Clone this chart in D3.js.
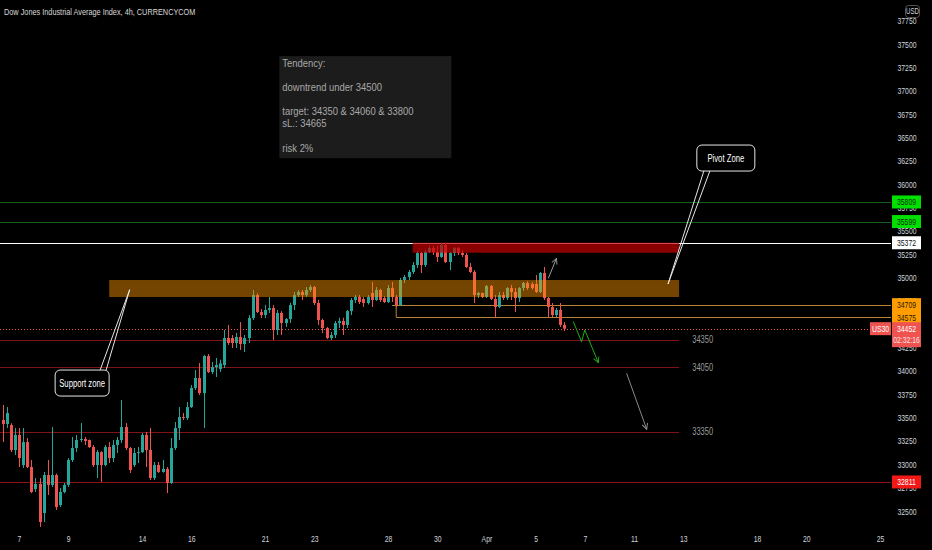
<!DOCTYPE html>
<html lang="en">
<head>
<meta charset="utf-8">
<title>Dow Jones Industrial Average Index, 4h, CURRENCYCOM</title>
<script src="https://cdnjs.cloudflare.com/ajax/libs/d3/7.8.5/d3.min.js"></script>
<style>
  body { margin: 0; background: #000; }
  svg { display: block; font-family: "Liberation Sans", Arial, sans-serif; }
</style>
</head>
<body>
<script>

// 4h candles
var opens = [33474,33431,33420,33153,33314,32992,33238,32971,32735,32789,32478,32885,32779,32885,32564,32703,32779,33046,33174,33260,
  33271,33260,33185,32992,33131,32992,33185,33067,33206,33260,33399,33174,32992,33121,33131,33314,33153,32853,32992,32918,
  32950,32800,33174,33388,33506,33496,33613,33817,33924,33763,34159,33988,34041,34020,34063,34352,34352,34299,34363,34288,
  34352,34566,34812,34630,34598,34652,34673,34438,34620,34513,34555,34705,34812,34845,34812,34866,34898,34727,34545,34459,
  34352,34384,34513,34534,34491,34641,34759,34791,34770,34727,34834,34759,34866,34780,34737,34887,34791,34705,34973,35005,
  35059,35134,35262,35134,35273,35316,35273,35220,35348,35166,35262,35316,35262,35241,35112,35059,34812,34834,34791,34909,
  34770,34684,34812,34780,34887,34845,34780,34887,34941,34930,34930,34845,35048,34780,34684,34598,34652,34492];
var highs = [33635,33613,33440,33388,33388,33388,33281,33046,32853,32853,32918,33046,33399,32900,32746,32800,33067,33292,33314,33442,
  33292,33265,33206,33153,33140,33206,33238,33260,33292,33688,33442,33185,33174,33185,33335,33346,33388,33025,33025,33046,
  32971,33281,33453,33613,33549,33667,33849,34009,34084,34170,34180,34095,34138,34120,34438,34492,34384,34405,34523,34384,
  34598,34866,34830,34662,34705,34791,34705,34652,34640,34566,34730,34845,34866,34866,34898,34920,34910,34759,34560,34470,
  34416,34534,34570,34570,34652,34780,34812,34812,34791,34812,34952,34898,34880,34800,34920,34952,34812,34995,35027,35080,
  35166,35284,35273,35294,35337,35337,35340,35370,35372,35273,35326,35326,35294,35262,35155,35080,34845,34840,34920,34920,
  34812,34845,34845,34898,34920,34887,34898,34952,34960,34950,35027,35059,35112,34791,34727,34673,34727,34523];
var lows = [33239,33388,33131,33100,32971,32960,32960,32692,32703,32329,32382,32671,32757,32511,32543,32690,32757,33025,33131,33238,
  33206,33174,32971,32853,32810,32980,33014,33025,33121,33228,33153,32907,32971,33014,33121,32971,32832,32832,32907,32910,
  32692,32789,33153,33260,33474,33474,33603,33795,33742,33388,33977,33966,33935,33990,34031,34277,34245,34245,34224,34202,
  34299,34545,34620,34566,34566,34620,34331,34384,34384,34470,34513,34652,34791,34759,34791,34845,34705,34492,34405,34341,
  34331,34352,34459,34384,34459,34598,34727,34716,34684,34710,34684,34750,34738,34727,34727,34737,34684,34695,34941,34973,
  35038,35102,35048,35112,35262,35241,35166,35210,35155,35080,35230,35241,35220,35102,35048,34727,34780,34780,34780,34759,
  34566,34673,34759,34759,34759,34630,34737,34855,34866,34870,34834,34834,34759,34566,34577,34577,34470,34427];
var closes = [33431,33549,33153,33314,33067,33238,32971,32703,32789,32382,32885,32779,32885,32543,32703,32779,33046,33174,33260,33271,
  33249,33185,32992,33131,32992,33185,33067,33206,33260,33399,33174,32939,33121,33131,33314,33153,32853,32992,32918,32950,
  32800,33174,33388,33506,33496,33613,33817,33924,33763,34159,33988,34041,34063,34080,34352,34299,34299,34363,34288,34352,
  34566,34812,34630,34598,34652,34673,34438,34620,34513,34555,34705,34812,34845,34812,34866,34898,34727,34545,34459,34352,
  34384,34513,34534,34491,34641,34759,34791,34737,34727,34791,34759,34866,34759,34737,34887,34791,34705,34973,35005,35059,
  35134,35262,35134,35273,35316,35273,35220,35348,35166,35262,35316,35262,35241,35112,35059,34812,34834,34791,34909,34770,
  34684,34812,34780,34887,34845,34780,34887,34941,34887,34887,34845,35048,34780,34684,34598,34652,34492,34452];

// price scale ticks
var priceTicks = [32500,32750,33000,33250,33500,33750,34000,34250,34500,34750,35000,35250,35500,35750,36000,36250,36500,36750,37000,37250,37500,37750];

// date labels, and the 4h bar where each of those days opens
var dayLabels = ["7","9","14","16","21","23","28","30","Apr","5","7","11","13","18","20","25"];
var dayBars = [4,16,34,46,64,76,94,106,118,130,142,154,166,184,196,214];

// horizontal levels drawn on the chart
var greenLevels = [35809, 35599];
var whiteLevel = 35372;
var orangeLevels = [34709, 34575];
var orangeStartBars = [95, 96];
var targetLevels = [34335, 34040, 33350];
var targetLabels = ["34350", "34050", "33350"];
var stopLevel = 32811;
var lastPrice = 34452;
var countdown = "02:32:16";
var symbol = "US30";

// zones [bar from, bar to, price top, price bottom]
var pivotZone = [26, 165, 34973, 34791];
var resistZone = [100, 165, 35372, 35265];
var levelEndBar = 165;

// arrows (bar, price)
var upArrowBars = [133.1, 135.1], upArrowPrices = [34991, 35205];
var zigBars = [139.2, 141.2, 142, 145.3], zigPrices = [34527, 34313, 34438, 34088];
var downArrowBars = [152.2, 157.1], downArrowPrices = [33974, 33375];

// callouts
var calloutTexts = ["Pivot Zone", "Support zone"];
var calloutBars = [176.4, 19.4], calloutPrices = [36279, 33870];
var calloutTipBars = [162.3, 31], calloutTipPrices = [34930, 34870];

// note box
var noteLines = ["Tendency:", "", "downtrend under 34500", "", "target: 34350 & 34060 & 33800", "sL.: 34665", "", "risk 2%"];
var noteBar = 67.5, notePrice = 37370;

var title = "Dow Jones Industrial Average Index, 4h, CURRENCYCOM";

var w = 932, h = 550;
var plotRight = 891;
var up = "#26a69a", down = "#ef5350";

var x = d3.scaleLinear().domain([0, 214]).range([2.6, 880]);
var y = d3.scaleLinear().domain([32500, 37500]).range([511, 44]);

// the screenshot's lettering is narrow: squeeze each text to a share of its natural width
function squeeze(sel, k) {
  sel.each(function () {
    var len = this.getComputedTextLength();
    if (len > 0) d3.select(this).attr("textLength", len * k).attr("lengthAdjust", "spacingAndGlyphs");
  });
}

var svg = d3.select("body").append("svg")
    .attr("width", w)
    .attr("height", h)
    .style("background", "#000");

var defs = svg.append("defs");
function marker(id, color) {
  defs.append("marker")
      .attr("id", id)
      .attr("viewBox", "0 0 10 10")
      .attr("refX", 9).attr("refY", 5)
      .attr("markerUnits", "userSpaceOnUse")
      .attr("markerWidth", 7).attr("markerHeight", 7)
      .attr("orient", "auto")
    .append("path")
      .attr("d", "M1,1 L9,5 L1,9")
      .attr("fill", "none")
      .attr("stroke", color)
      .attr("stroke-width", 1.3);
}
marker("headGray", "#9a9a9a");
marker("headGreen", "#1fae1f");

var plot = svg.append("g");

// full width levels
plot.selectAll(".green-level")
  .data(greenLevels)
  .enter().append("line")
    .attr("x1", 0).attr("x2", plotRight)
    .attr("y1", d => Math.round(y(d)) + 0.5).attr("y2", d => Math.round(y(d)) + 0.5)
    .attr("stroke", "#17601a");

plot.append("line")
    .attr("x1", 0).attr("x2", plotRight)
    .attr("y1", Math.round(y(whiteLevel)) + 0.5).attr("y2", Math.round(y(whiteLevel)) + 0.5)
    .attr("stroke", "#ffffff");

plot.selectAll(".orange-level")
  .data(orangeLevels)
  .enter().append("line")
    .attr("x1", (d, i) => x(orangeStartBars[i])).attr("x2", plotRight)
    .attr("y1", d => Math.round(y(d)) + 0.5).attr("y2", d => Math.round(y(d)) + 0.5)
    .attr("stroke", "#b88436");

plot.append("line")
    .attr("x1", x(orangeStartBars[1])).attr("x2", x(orangeStartBars[1]))
    .attr("y1", y(orangeLevels[0])).attr("y2", y(orangeLevels[1]))
    .attr("stroke", "#b88436");

plot.selectAll(".target-level")
  .data(targetLevels)
  .enter().append("line")
    .attr("x1", 0).attr("x2", x(levelEndBar))
    .attr("y1", d => Math.round(y(d)) + 0.5).attr("y2", d => Math.round(y(d)) + 0.5)
    .attr("stroke", "#7e1414");

plot.append("g")
  .selectAll("text")
  .data(targetLevels)
  .enter().append("text")
    .attr("x", x(168.2))
    .attr("y", d => y(d))
    .attr("dy", "0.35em")
    .attr("font-size", 10)
    .attr("fill", "#9a9a9a")
    .text((d, i) => targetLabels[i])
    .call(squeeze, 0.75);

plot.append("line")
    .attr("x1", 0).attr("x2", plotRight)
    .attr("y1", Math.round(y(stopLevel)) + 0.5).attr("y2", Math.round(y(stopLevel)) + 0.5)
    .attr("stroke", "#8e1212");

plot.append("line")
    .attr("x1", 0).attr("x2", plotRight)
    .attr("y1", Math.round(y(lastPrice)) + 0.5).attr("y2", Math.round(y(lastPrice)) + 0.5)
    .attr("stroke", down)
    .attr("stroke-dasharray", "1,2");

// candles
var candles = opens.map((o, i) => ({ i: i, o: o, h: highs[i], l: lows[i], c: closes[i] }));

var cg = plot.append("g");
cg.selectAll("line")
  .data(candles)
  .enter().append("line")
    .attr("x1", d => Math.round(x(d.i)) + 0.5).attr("x2", d => Math.round(x(d.i)) + 0.5)
    .attr("y1", d => y(d.h)).attr("y2", d => y(d.l))
    .attr("stroke", d => d.c >= d.o ? up : down);

cg.selectAll("rect")
  .data(candles)
  .enter().append("rect")
    .attr("x", d => Math.round(x(d.i)) - 1)
    .attr("y", d => y(Math.max(d.o, d.c)))
    .attr("width", 3)
    .attr("height", d => Math.max(1, Math.abs(y(d.o) - y(d.c))))
    .attr("fill", d => d.c >= d.o ? up : down);

// zones on top of candles
plot.append("rect")
    .attr("x", x(pivotZone[0])).attr("width", x(pivotZone[1]) - x(pivotZone[0]))
    .attr("y", y(pivotZone[2])).attr("height", y(pivotZone[3]) - y(pivotZone[2]))
    .attr("fill", "#ff9800").attr("fill-opacity", 0.45);

plot.append("rect")
    .attr("x", x(resistZone[0])).attr("width", x(resistZone[1]) - x(resistZone[0]))
    .attr("y", y(resistZone[2])).attr("height", y(resistZone[3]) - y(resistZone[2]))
    .attr("fill", "#c40000").attr("fill-opacity", 0.7);

// arrows
var line = d3.line();
plot.append("path")
    .attr("d", line(upArrowBars.map((b, i) => [x(b), y(upArrowPrices[i])])))
    .attr("fill", "none").attr("stroke", "#9a9a9a")
    .attr("marker-end", "url(#headGray)");

plot.append("path")
    .attr("d", line(zigBars.map((b, i) => [x(b), y(zigPrices[i])])))
    .attr("fill", "none").attr("stroke", "#1fae1f")
    .attr("marker-end", "url(#headGreen)");

plot.append("path")
    .attr("d", line(downArrowBars.map((b, i) => [x(b), y(downArrowPrices[i])])))
    .attr("fill", "none").attr("stroke", "#8a8a8a")
    .attr("marker-end", "url(#headGray)");

// callouts
var calloutW = [58, 54], calloutH = 26;
calloutTexts.forEach(function (t, i) {
  var cx = x(calloutBars[i]), cy = y(calloutPrices[i]);
  var tx = x(calloutTipBars[i]), ty = y(calloutTipPrices[i]);
  var bw = calloutW[i];
  // tail leaves the box edge that faces the tip
  var by = ty > cy ? cy + calloutH / 2 : cy - calloutH / 2;
  var bx = i === 0 ? cx - bw / 2 + 10 : cx + bw / 2 - 6;
  plot.append("path")
      .attr("d", "M" + (bx - 3) + "," + by + "L" + tx + "," + ty + "L" + (bx + 3) + "," + by)
      .attr("fill", "none")
      .attr("stroke", "#e6e6e6");
  plot.append("rect")
      .attr("x", cx - bw / 2).attr("y", cy - calloutH / 2)
      .attr("width", bw).attr("height", calloutH)
      .attr("rx", 5)
      .attr("fill", "#000")
      .attr("stroke", "#e6e6e6");
  plot.append("text")
      .attr("x", cx).attr("y", cy)
      .attr("dy", "0.35em")
      .attr("text-anchor", "middle")
      .attr("font-size", 10)
      .attr("fill", "#ffffff")
      .text(t)
      .call(squeeze, 0.77);
});

// note box
var nx = x(noteBar), ny = y(notePrice);
plot.append("rect")
    .attr("x", nx).attr("y", ny)
    .attr("width", 172).attr("height", 102)
    .attr("fill", "#1c1c1c");
plot.append("g")
  .selectAll("text")
  .data(noteLines)
  .enter().append("text")
    .attr("x", nx + 3)
    .attr("y", (d, i) => ny + 10.7 + i * 12.1)
    .attr("font-size", 11.5)
    .attr("fill", "#a8a8a8")
    .text(d => d)
    .call(squeeze, 0.82);

// title
svg.append("text")
    .attr("x", 4).attr("y", 15)
    .attr("font-size", 9.5)
    .attr("fill", "#d8d8d8")
    .text(title)
    .call(squeeze, 0.77);

// price axis
svg.append("g")
    .attr("transform", "translate(" + plotRight + ",0)")
    .call(d3.axisRight(y).tickValues(priceTicks).tickSize(0).tickPadding(0).tickFormat(d => d))
    .attr("font-family", null)
    .call(g => g.select(".domain").remove())
    .call(g => g.selectAll("text")
        .attr("x", 16)
        .attr("text-anchor", "middle")
        .attr("font-size", 9.5)
        .attr("fill", "#d1d4dc")
        .call(squeeze, 0.72));

// time axis
svg.append("g")
    .attr("transform", "translate(0,530)")
    .call(d3.axisBottom(x).tickValues(dayBars).tickSize(0).tickPadding(5).tickFormat((d, i) => dayLabels[i]))
    .attr("font-family", null)
    .call(g => g.select(".domain").remove())
    .call(g => g.selectAll("text")
        .attr("font-size", 9.5)
        .attr("fill", "#d1d4dc")
        .call(squeeze, 0.72));

// price tags on the scale
function tag(value, fill, color, text) {
  var yy = y(value);
  svg.append("rect")
      .attr("x", plotRight + 1).attr("y", yy - 6.5)
      .attr("width", 29).attr("height", 13)
      .attr("fill", fill);
  svg.append("text")
      .attr("x", plotRight + 15.5).attr("y", yy)
      .attr("dy", "0.35em")
      .attr("text-anchor", "middle")
      .attr("font-size", 9.5)
      .attr("fill", color)
      .text(text)
      .call(squeeze, 0.72);
}
greenLevels.forEach(v => tag(v, "#00e000", "#0a2a0a", v));
tag(whiteLevel, "#ffffff", "#111", whiteLevel);
orangeLevels.forEach(v => tag(v, "#ff9d00", "#2a1a00", v));
tag(stopLevel, "#f21818", "#ffffff", stopLevel);

// last price tag with countdown, and symbol tag
var ly = y(lastPrice);
svg.append("rect")
    .attr("x", plotRight + 1).attr("y", ly - 6.5)
    .attr("width", 29).attr("height", 25)
    .attr("fill", down);
svg.append("text")
    .attr("x", plotRight + 15.5).attr("y", ly).attr("dy", "0.35em")
    .attr("text-anchor", "middle").attr("font-size", 9.5).attr("fill", "#fff")
    .text(lastPrice)
    .call(squeeze, 0.72);
svg.append("text")
    .attr("x", plotRight + 15.5).attr("y", ly + 11).attr("dy", "0.35em")
    .attr("text-anchor", "middle").attr("font-size", 9.5).attr("fill", "#fde0e0")
    .text(countdown)
    .call(squeeze, 0.72);
svg.append("rect")
    .attr("x", plotRight - 21).attr("y", ly - 6.5)
    .attr("width", 21).attr("height", 13)
    .attr("fill", down);
svg.append("text")
    .attr("x", plotRight - 10.5).attr("y", ly).attr("dy", "0.35em")
    .attr("text-anchor", "middle").attr("font-size", 9.5).attr("fill", "#fff")
    .text(symbol)
    .call(squeeze, 0.72);

// currency badge
svg.append("rect")
    .attr("x", 905.5).attr("y", 5.5)
    .attr("width", 14).attr("height", 12)
    .attr("rx", 3)
    .attr("fill", "#000").attr("stroke", "#555");
svg.append("text")
    .attr("x", 912.5).attr("y", 11.5).attr("dy", "0.35em")
    .attr("text-anchor", "middle").attr("font-size", 8.5).attr("fill", "#d1d4dc")
    .text("USD")
    .call(squeeze, 0.72);

</script>
</body>
</html>
